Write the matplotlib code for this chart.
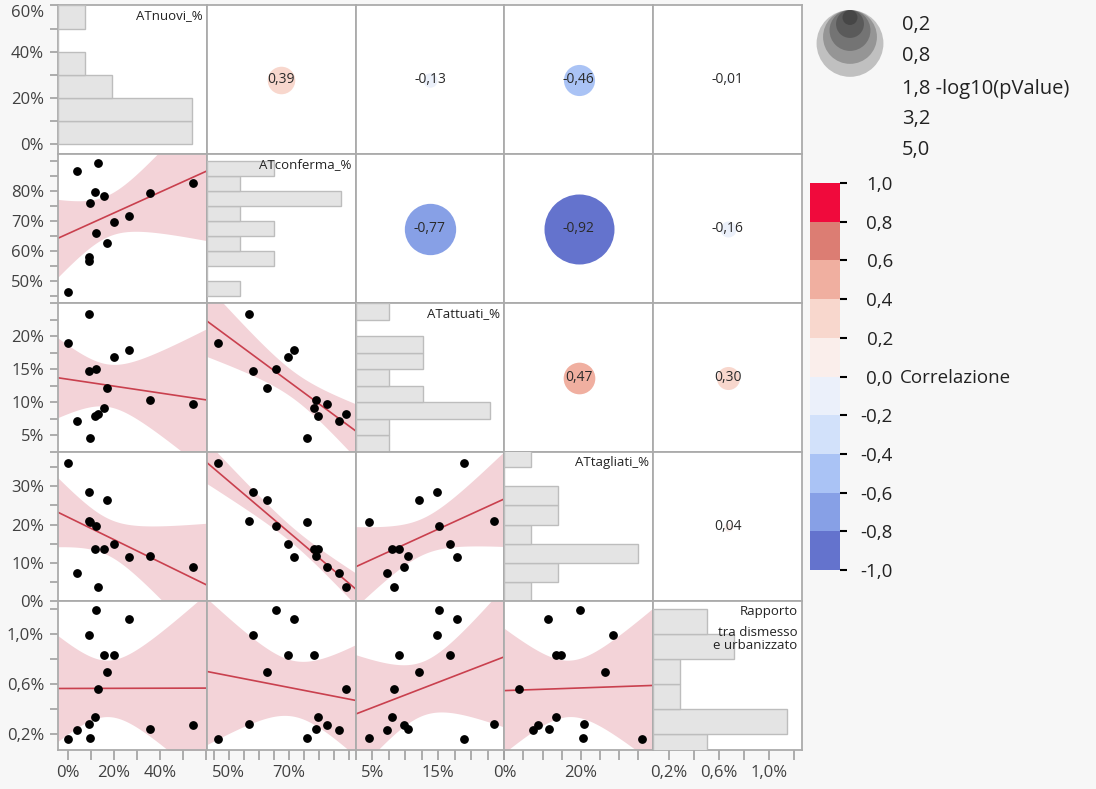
import math
import numpy as np
import matplotlib
matplotlib.use("Agg")
import matplotlib.pyplot as plt
from matplotlib.colors import ListedColormap, BoundaryNorm
from matplotlib.cm import ScalarMappable
from matplotlib.patches import Circle

plt.rcParams['font.family'] = ['Open Sans', 'DejaVu Sans']

# --- dati ---
nomi = ['ATnuovi_%', 'ATconferma_%', 'ATattuati_%', 'ATtagliati_%', 'Rapporto']
at_nuovi = [0.0, 4.2, 9.1, 9.1, 12.3, 9.8, 12.0, 13.1, 15.8, 17.1, 20.1, 26.7, 35.7, 54.2]
at_conferma = [46.5, 86.7, 56.8, 58.1, 65.9, 76.1, 79.6, 89.2, 78.4, 62.8, 69.6, 71.7, 79.2, 82.6]
at_attuati = [18.9, 7.2, 23.4, 14.8, 15.1, 4.6, 8.0, 8.3, 9.1, 12.1, 16.8, 17.9, 10.4, 9.8]
at_tagliati = [36.1, 7.4, 20.9, 28.4, 19.7, 20.6, 13.5, 3.7, 13.5, 26.4, 14.8, 11.4, 11.7, 8.9]
rapporto = [0.162, 0.229, 0.28, 0.99, 1.19, 0.168, 0.336, 0.56, 0.826, 0.696, 0.826, 1.12, 0.24, 0.274]

# correlazioni mostrate nel triangolo superiore (riga, colonna)
coppie = [(0, 1), (0, 2), (0, 3), (0, 4), (1, 2), (1, 3), (1, 4), (2, 3), (2, 4), (3, 4)]
correlazioni = [0.39, -0.13, -0.46, -0.01, -0.77, -0.92, -0.16, 0.47, 0.30, 0.04]

legenda_logp = [0.2, 0.8, 1.8, 3.2, 5.0]
livelli_corr = [-1.0, -0.8, -0.6, -0.4, -0.2, 0.0, 0.2, 0.4, 0.6, 0.8, 1.0]
colori_corr = ['#6473CD', '#87A0E6', '#AAC3F5', '#D2E1FA', '#EBF0FA',
               '#FAEEEB', '#F8D7CD', '#F0AFA0', '#DC7D73', '#F00A3C']

dati = [np.array(v) for v in (at_nuovi, at_conferma, at_attuati, at_tagliati, rapporto)]
n = len(at_nuovi)

# limiti assi, tacche, etichette, classi istogramma
limiti = [(-4.2, 60.2), (42.7, 92.3), (2.5, 25.0), (0.0, 39.0), (0.073, 1.26)]
tacche = [np.arange(0, 61, 10), np.arange(45, 91, 5), np.arange(2.5, 25.1, 2.5),
          np.arange(0, 36, 5), np.arange(0.2, 1.21, 0.2)]
etich_y = [[0, 20, 40, 60], [50, 60, 70, 80], [5, 10, 15, 20], [0, 10, 20, 30], [0.2, 0.6, 1.0]]
etich_x = [[0, 20, 40], [50, 70], [5, 15], [0, 20], [0.2, 0.6, 1.0]]
decimali = [0, 0, 0, 0, 1]
classi = [(0, 60, 10), (45, 90, 5), (2.5, 25, 2.5), (0, 40, 5), (0, 1.2, 0.2)]


def fmt(v, d):
    return f"{v:.{d}f}".replace('.', ',') + '%'


def p_value(r, n):
    df = n - 2
    t = abs(r) * math.sqrt(df / (1 - r * r))
    x = np.linspace(t, t + 300, 300001)
    c = math.gamma((df + 1) / 2) / (math.sqrt(df * math.pi) * math.gamma(df / 2))
    return 2 * np.trapezoid(c * (1 + x ** 2 / df) ** (-(df + 1) / 2), x)


def diametro(logp):
    return 29 * math.sqrt(logp) + 2


W, H = 1096, 789
fig = plt.figure(figsize=(W / 100, H / 100), dpi=100)
fig.patch.set_facecolor('#F7F7F7')

x0, x1, y0, y1 = 58, 802, 5, 750
cw, ch = (x1 - x0) / 5, (y1 - y0) / 5
cmap = ListedColormap(colori_corr)
norm = BoundaryNorm(livelli_corr, cmap.N)
T_CRIT = 2.179  # t di Student, 95%, 12 gdl

bordo = '#ABABAB'
col_testo = '#404040'

for i in range(5):
    for j in range(5):
        ax = fig.add_axes([(x0 + j * cw) / W, 1 - (y0 + (i + 1) * ch) / H, cw / W, ch / H])
        ax.set_facecolor('white')
        for sp in ax.spines.values():
            sp.set_color(bordo)
            sp.set_linewidth(1.3)
        ax.set_xlim(limiti[j])
        ax.set_ylim(limiti[i])
        ax.set_xticks([])
        ax.set_yticks([])

        if i == j:
            a, b, w = classi[i]
            edges = np.arange(a, b + w / 2, w)
            cnt, _ = np.histogram(dati[i], bins=edges)
            ax2 = ax.twiny()
            ax2.set_xlim(0, cnt.max() / 0.9)
            ax2.barh(edges[:-1], cnt, height=w, align='edge', color='#E4E4E4',
                     edgecolor='#BDBDBD', linewidth=1.0)
            ax2.set_xticks([])
            for sp in ax2.spines.values():
                sp.set_visible(False)
            if i == 4:
                ax2.text(0.97, 0.97, 'Rapporto', transform=ax2.transAxes, ha='right',
                         va='top', fontsize=9.5, color='#222222')
                ax2.text(0.97, 0.83, 'tra dismesso\ne urbanizzato', transform=ax2.transAxes,
                         ha='right', va='top', fontsize=9.5, color='#222222', linespacing=1.0)
            else:
                ax2.text(0.97, 0.97, nomi[i], transform=ax2.transAxes, ha='right',
                         va='top', fontsize=9.5, color='#222222')
        elif i > j:
            x, y = dati[j], dati[i]
            coef = np.polyfit(x, y, 1)
            xs = np.linspace(limiti[j][0], limiti[j][1], 200)
            yf = np.polyval(coef, xs)
            res = y - np.polyval(coef, x)
            s = math.sqrt((res ** 2).sum() / (n - 2))
            sxx = ((x - x.mean()) ** 2).sum()
            se = s * np.sqrt(1 / n + (xs - x.mean()) ** 2 / sxx)
            ax.fill_between(xs, yf - T_CRIT * se, yf + T_CRIT * se, color='#F3D3D8', lw=0)
            ax.plot(xs, yf, color='#C9404E', lw=1.2)
            ax.scatter(x, y, s=28, color='black', zorder=3, clip_on=True)
        else:
            ax.set_xlim(0, 1)
            ax.set_ylim(0, 1)
            r = correlazioni[coppie.index((i, j))]
            d = diametro(-math.log10(p_value(r, n)))
            ax.scatter([0.5], [0.5], s=(d * 0.72) ** 2, color=cmap(norm(r)), lw=0)
            ax.text(0.5, 0.5, f"{r:.2f}".replace('.', ','), ha='center', va='center',
                    fontsize=10, color='#2A2A2A')

        if j == 0:
            ax.set_ylim(limiti[i])
            ax.set_yticks(tacche[i])
            ax.set_yticklabels([fmt(t, decimali[i]) if any(abs(t - e) < 1e-6 for e in etich_y[i]) else ''
                                for t in tacche[i]])
            ax.tick_params(axis='y', length=6, color='#A0A0A0', width=1.2, labelsize=12,
                           labelcolor=col_testo, pad=4)
            if i == 0:
                ax.get_yticklabels()[-1].set_va('top')
        if i == 4:
            ax.set_xlim(limiti[j])
            ax.set_xticks(tacche[j])
            ax.set_xticklabels([fmt(t, decimali[j]) if any(abs(t - e) < 1e-6 for e in etich_x[j]) else ''
                                for t in tacche[j]])
            ax.tick_params(axis='x', length=7, color='#A0A0A0', width=1.2, labelsize=12,
                           labelcolor=col_testo, pad=4)

# legenda dimensioni (-log10 p)
ov = fig.add_axes([0, 0, 1, 1], facecolor='none')
ov.set_xlim(0, W)
ov.set_ylim(H, 0)
ov.axis('off')
for v in sorted(legenda_logp, reverse=True):
    d = diametro(v)
    ov.add_patch(Circle((850, 10 + d / 2), d / 2, color='black', alpha=0.22, lw=0))
ys = [25, 56, 89, 119, 150]
for v, yy in zip(legenda_logp, ys):
    t = f"{v:.1f}".replace('.', ',')
    if v == 1.8:
        t += ' -log10(pValue)'
    ov.text(902, yy, t, ha='left', va='center', fontsize=14.5, color='#222222')

# scala colori correlazione
cax = fig.add_axes([810 / W, 1 - 570 / H, 30 / W, 387 / H])
cb = fig.colorbar(ScalarMappable(norm=norm, cmap=cmap), cax=cax, ticks=livelli_corr)
cb.outline.set_visible(False)
cax.set_yticklabels([f"{v:.1f}".replace('.', ',') for v in livelli_corr])
cax.tick_params(axis='y', length=5, width=1.5, labelsize=13.5, labelcolor='#222222', pad=33)
for t in cax.get_yticklabels():
    t.set_ha('right')
for tl, v in zip(cax.yaxis.get_ticklines()[1::2], livelli_corr):
    tl.set_color(cmap(norm(v)))
ov.text(900, 378, 'Correlazione', ha='left', va='center', fontsize=13.5, color='#222222')

fig.savefig('out.png', dpi=100, facecolor=fig.get_facecolor())
